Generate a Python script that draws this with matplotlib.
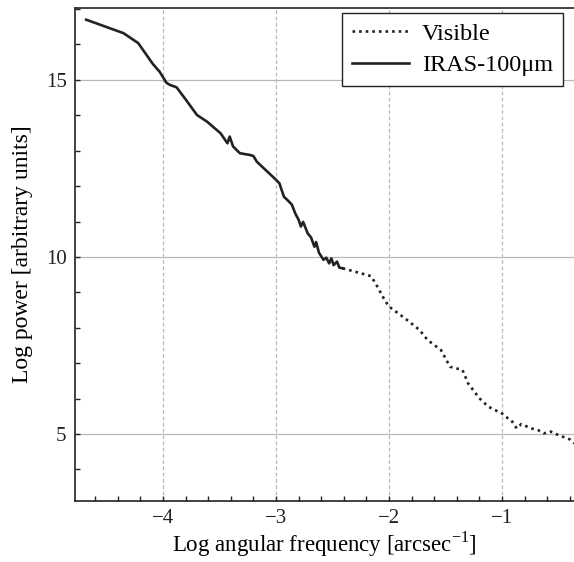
import matplotlib
matplotlib.use("Agg")
import matplotlib.pyplot as plt
from matplotlib.ticker import MultipleLocator

# IRAS-100um power spectrum (solid)
iras_x = [-4.68, -4.35, -4.22, -4.09, -4.03, -3.97, -3.94, -3.88, -3.80, -3.70,
          -3.61, -3.49, -3.43, -3.41, -3.38, -3.32, -3.23, -3.20, -3.17, -3.00,
          -2.97, -2.93, -2.90, -2.86, -2.83, -2.80, -2.78, -2.76, -2.72, -2.69,
          -2.66, -2.645, -2.62, -2.58, -2.555, -2.53, -2.51, -2.49, -2.46, -2.44, -2.41]
iras_y = [16.70, 16.32, 16.04, 15.45, 15.23, 14.92, 14.86, 14.79, 14.45, 14.01,
          13.82, 13.49, 13.21, 13.40, 13.12, 12.93, 12.88, 12.85, 12.69, 12.18,
          12.08, 11.70, 11.61, 11.48, 11.23, 11.05, 10.86, 10.99, 10.67, 10.55,
          10.29, 10.42, 10.12, 9.92, 9.98, 9.82, 9.96, 9.77, 9.87, 9.70, 9.68]

# Visible power spectrum (dotted)
vis_x = [-2.41, -2.25, -2.16, -2.12, -2.07, -2.04, -2.00, -1.86, -1.73, -1.66,
         -1.54, -1.46, -1.35, -1.30, -1.20, -1.12, -1.00, -0.95, -0.92, -0.87,
         -0.83, -0.74, -0.68, -0.63, -0.57, -0.50, -0.40, -0.36]
vis_y = [9.68, 9.54, 9.46, 9.26, 8.97, 8.79, 8.60, 8.27, 7.94, 7.66,
         7.37, 6.90, 6.81, 6.43, 6.01, 5.77, 5.58, 5.45, 5.40, 5.16,
         5.28, 5.16, 5.11, 5.02, 5.07, 4.97, 4.85, 4.74]

x_major = [-4, -3, -2, -1]
y_major = [5, 10, 15]

plt.rcParams['font.family'] = ['Liberation Serif', 'DejaVu Serif']
plt.rcParams['mathtext.fontset'] = 'custom'
plt.rcParams['mathtext.rm'] = 'Liberation Serif'

fig = plt.figure(figsize=(5.74, 5.62), dpi=100)
ax = fig.add_axes([75 / 574, 61 / 562, 1 - 75 / 574, 493 / 562])

ax.plot(vis_x, vis_y, color='#222222', lw=1.9, linestyle=(0, (1, 1.5)), label='Visible')
ax.plot(iras_x, iras_y, color='#222222', lw=1.9, solid_joinstyle='round', label='IRAS-100μm')

ax.set_xlim(-4.779, -0.363)
ax.set_ylim(3.11, 17.03)

ax.set_xticks(x_major)
ax.set_yticks(y_major)
ax.xaxis.set_minor_locator(MultipleLocator(0.2))
ax.yaxis.set_minor_locator(MultipleLocator(1))
ax.tick_params(which='both', direction='in', length=3.5, width=1, colors='#222222',
               labelsize=15, pad=6)
ax.tick_params(axis='x', pad=6)

for v in x_major:
    ax.axvline(v, color='#b8b8b8', lw=0.9, linestyle=(0, (3, 2)), zorder=0)
for v in y_major:
    ax.axhline(v, color='#b8b8b8', lw=0.9, zorder=0)

ax.spines['right'].set_visible(False)
for s in ['left', 'top', 'bottom']:
    ax.spines[s].set_linewidth(1.2)
    ax.spines[s].set_color('#222222')

ax.set_xlabel('Log angular frequency [arcsec$^{-1}$]', fontsize=16.5, labelpad=1)
ax.set_ylabel('Log power [arbitrary units]', fontsize=17, labelpad=9)

leg = ax.legend(loc='upper right', bbox_to_anchor=(0.978, 0.99), borderaxespad=0,
                fontsize=17.5, fancybox=False, framealpha=1, edgecolor='#222222',
                handlelength=2.35, handletextpad=0.53, borderpad=0.4, labelspacing=0.4)
leg.get_frame().set_linewidth(1.0)

fig.savefig('out.png', dpi=100)
